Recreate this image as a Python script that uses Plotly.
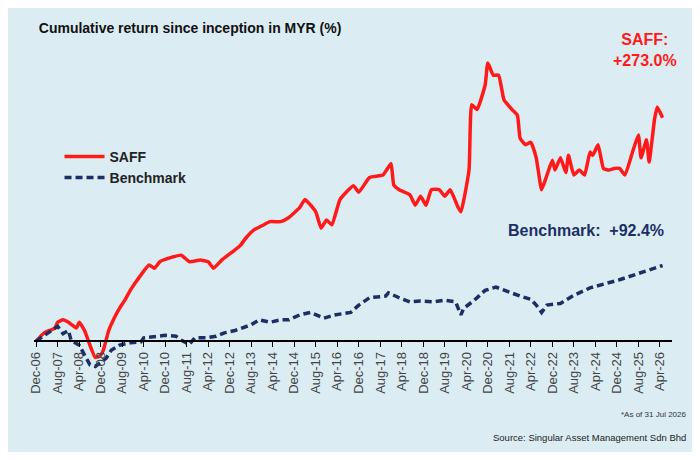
import pandas as pd
import plotly.graph_objects as go

# months since Dec-06 and cumulative return (%)
saff_month = [0, 3, 7, 8, 10, 12, 15, 16, 18, 20, 22, 24, 25, 27, 29, 31, 33, 35, 39, 42, 44, 46, 50, 54,
              57, 61, 64, 66, 69, 73, 76, 78, 81, 84, 87, 91, 94, 98, 100, 104, 106, 108, 110, 113, 118,
              120, 124, 129, 132, 133, 135, 139, 141, 143, 145, 147, 150, 152, 154, 157, 158, 161, 162,
              164, 167, 168, 170, 172, 174, 177, 179, 180, 182, 184, 186, 188, 190, 192, 193, 195, 197,
              198, 200, 202, 204, 206, 207, 209, 211, 213, 215, 217, 219, 222, 224, 225, 227, 228, 230,
              231, 233]
saff_ret = [0, 10, 16, 23, 26, 23, 16, 23, 13, -5, -20, -17, -11, 13, 28, 40, 50, 62, 81, 93, 89, 97, 102,
            105, 97, 99, 97, 89, 99, 109, 117, 126, 136, 141, 146, 146, 151, 163, 173, 158, 138, 148, 142,
            173, 190, 182, 200, 203, 217, 191, 185, 179, 166, 177, 166, 185, 185, 177, 185, 163, 158, 209,
            289, 283, 313, 340, 325, 325, 295, 283, 276, 248, 240, 243, 224, 185, 203, 221, 209, 224, 206,
            227, 203, 209, 203, 231, 227, 240, 211, 209, 211, 211, 203, 233, 252, 224, 246, 219, 271, 286,
            273]

bm_month = [0, 3, 8, 10, 12, 13, 16, 20, 22, 24, 26, 28, 31, 35, 39, 40, 43, 48, 52, 54, 57, 59, 63, 67,
            70, 74, 80, 83, 87, 91, 94, 98, 102, 105, 107, 111, 117, 120, 124, 130, 131, 135, 139, 143,
            148, 152, 156, 158, 159, 163, 167, 171, 174, 180, 184, 186, 188, 190, 195, 200, 206, 217, 233]
bm_ret = [0, 7, 18, 9, 13, 1, -5, -29, -31, -26, -21, -11, -5, -2, -1, 4, 5, 7, 6, 1, -4, 4, 4, 6, 10, 13,
          20, 26, 23, 26, 26, 32, 35, 31, 28, 32, 35, 44, 53, 55, 59, 53, 48, 49, 48, 50, 48, 32, 40, 50,
          62, 66, 62, 55, 51, 44, 35, 44, 46, 56, 65, 75, 92.4]

start = pd.Timestamp("2006-12-01")
tick_vals = list(range(0, 233, 8))
tick_text = [(start + pd.DateOffset(months=m)).strftime("%b-%y") for m in tick_vals]

fig = go.Figure()
fig.add_trace(go.Scatter(x=saff_month, y=saff_ret, name="<b>SAFF</b>", mode="lines",
                         line=dict(color="#ff1a1a", width=3.5, shape="spline", smoothing=0.4)))
fig.add_trace(go.Scatter(x=bm_month, y=bm_ret, name="<b>Benchmark</b>", mode="lines",
                         line=dict(color="#1b2f66", width=3.5, dash="7px,4px")))

bg = "#dbedf3"
fig.update_layout(
    width=684, height=444,
    paper_bgcolor=bg, plot_bgcolor=bg,
    margin=dict(l=26, r=20, t=32, b=52),
    font=dict(family="Arial, Liberation Sans", color="#222"),
    title=dict(text="<b>Cumulative return since inception in MYR (%)</b>", x=0.045, y=0.965,
               font=dict(size=14, color="#111")),
    legend=dict(x=0.04, y=0.72, xanchor="left", yanchor="top", bgcolor="rgba(0,0,0,0)",
                font=dict(size=14, color="#222", family="Arial"), itemwidth=40, tracegroupgap=12),
    showlegend=True,
)
fig.update_xaxes(range=[-0.8, 236.5], anchor="free", position=59 / 360, automargin=False,
                 showgrid=False, zeroline=False,
                 showline=True, linecolor="black", linewidth=1.5,
                 tickmode="array", tickvals=tick_vals, ticktext=tick_text, tickangle=-90,
                 ticks="outside", ticklen=5, tickcolor="black", tickfont=dict(size=13, color="#444"))
fig.update_yaxes(range=[-72, 368], visible=False, automargin=False)

fig.add_annotation(text="<b>SAFF:<br>+273.0%</b>", xref="paper", yref="paper", x=0.958, y=1.03,
                   xanchor="center", yanchor="top", showarrow=False,
                   font=dict(size=16, color="#ff1a1a"))
fig.add_annotation(text="<b>Benchmark:  +92.4%</b>", xref="paper", yref="paper", x=0.99, y=0.47,
                   xanchor="right", yanchor="middle", showarrow=False,
                   font=dict(size=16, color="#1b2f66"))
fig.add_annotation(text="*As of 31 Jul 2026", xref="paper", yref="paper", x=1.025, y=-0.04,
                   xanchor="right", yanchor="middle", showarrow=False, font=dict(size=8, color="#333"))
fig.add_annotation(text="Source: Singular Asset Management Sdn Bhd", xref="paper", yref="paper",
                   x=1.025, y=-0.105, xanchor="right", yanchor="middle", showarrow=False,
                   font=dict(size=9.5, color="#222"))

fig.write_html("out.html")
